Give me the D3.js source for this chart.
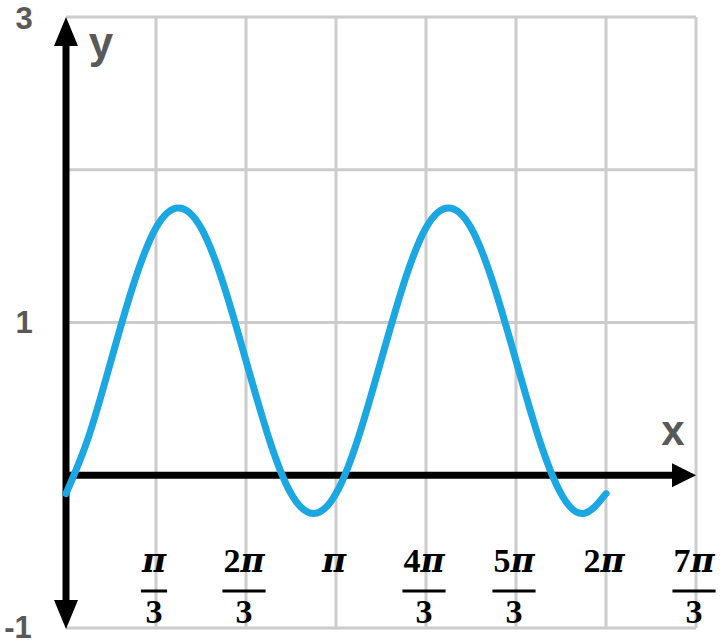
<!DOCTYPE html>
<html><head><meta charset="utf-8">
<script src="https://cdn.jsdelivr.net/npm/d3@7"></script>
<style>body{margin:0;background:#fff}svg{display:block}</style>
</head><body>
<svg id="c" width="725" height="644"></svg>
<script>
// x positions in units of pi/12, y values
const curveX = [0,1,2,3,4,5,6,7,8,9,10,11,12,13,14,15,16,17,18,19,20,21,22,23,24];
const curveY = [-0.12,0.25,0.75,1.25,1.62,1.75,1.62,1.25,0.75,0.25,-0.12,-0.25,-0.12,0.25,0.75,1.25,1.62,1.75,1.62,1.25,0.75,0.25,-0.12,-0.25,-0.12];
const xTickNums = [1,2,3,4,5,6,7];           // multiples of pi/3
const xTickNumer = ["π","2π","π","4π","5π","2π","7π"];
const xTickDenom = ["3","3","","3","3","","3"];
const yTickVals = [3,1,-1];
const yGridVals = [3,2,1,0,-1];

const svg = d3.select("#c");
const x = d3.scaleLinear().domain([0, 7*Math.PI/3]).range([66, 696]);
const y = d3.scaleLinear().domain([-1, 3]).range([628, 17]);
const grey = "#cccccc";

// grid
svg.append("g").selectAll("line").data(xTickNums).join("line")
  .attr("x1", d => x(d*Math.PI/3)).attr("x2", d => x(d*Math.PI/3))
  .attr("y1", y(3)).attr("y2", y(-1)).attr("stroke", grey).attr("stroke-width", 3);
svg.append("g").selectAll("line").data(yGridVals).join("line")
  .attr("x1", x(0)).attr("x2", x(7*Math.PI/3))
  .attr("y1", d => y(d)).attr("y2", d => y(d)).attr("stroke", grey).attr("stroke-width", 3);

// axes
const ax = svg.append("g");
ax.append("line").attr("x1", x(0)).attr("x2", 674).attr("y1", y(0)).attr("y2", y(0))
  .attr("stroke", "#000").attr("stroke-width", 7);
ax.append("path").attr("d", `M696,${y(0)} L672,${y(0)-12} L672,${y(0)+12} Z`).attr("fill", "#000");
ax.append("line").attr("x1", x(0)).attr("x2", x(0)).attr("y1", 44).attr("y2", 600)
  .attr("stroke", "#000").attr("stroke-width", 7);
ax.append("path").attr("d", `M${x(0)},17 L${x(0)-12},46 L${x(0)+12},46 Z`).attr("fill", "#000");
ax.append("path").attr("d", `M${x(0)},629 L${x(0)-12},600 L${x(0)+12},600 Z`).attr("fill", "#000");

// curve
const line = d3.line().x(d => x(d[0]*Math.PI/12)).y(d => y(d[1])).curve(d3.curveNatural);
svg.append("path").datum(curveX.map((v,i)=>[v, curveY[i]])).attr("d", line)
  .attr("fill", "none").attr("stroke", "#1ba8e2").attr("stroke-width", 7).attr("stroke-linecap", "round");

// y labels
svg.append("g").selectAll("text").data(yTickVals).join("text")
  .attr("x", d => d < 0 ? 18 : 24).attr("y", d => d === 3 ? 29 : y(d) + 10).attr("text-anchor", "middle")
  .attr("font-family", "Liberation Sans, Arial, sans-serif").attr("font-weight", "bold")
  .attr("font-size", 31).attr("fill", "#595959").text(d => d);
svg.append("text").attr("x", 101).attr("y", 58).attr("text-anchor", "middle")
  .attr("font-family", "Liberation Sans, Arial, sans-serif").attr("font-weight", "bold")
  .attr("font-size", 44).attr("fill", "#595959").text("y");
svg.append("text").attr("x", 673).attr("y", 445).attr("text-anchor", "middle")
  .attr("font-family", "Liberation Sans, Arial, sans-serif").attr("font-weight", "bold")
  .attr("font-size", 42).attr("fill", "#595959").text("x");

// x tick labels (fractions)
const xl = svg.append("g").attr("font-family", "Liberation Serif, DejaVu Serif, serif")
  .attr("font-weight", "bold").attr("font-size", 34).attr("fill", "#000");
xTickNums.forEach((n, i) => {
  const cx = x(n*Math.PI/3) - 2;
  const t = xl.append("text").attr("x", cx).attr("y", 572).attr("text-anchor", "middle");
  const num = xTickNumer[i];
  if (num.length > 1) t.append("tspan").text(num.slice(0, -1));
  t.append("tspan").attr("font-family", "DejaVu Serif, serif").attr("font-style", "italic")
    .attr("font-size", 33).text("π");
  if (xTickDenom[i]) {
    const w = t.node().getComputedTextLength();
    xl.append("line").attr("x1", cx - w/2 - 1).attr("x2", cx + w/2 + 1).attr("y1", 591).attr("y2", 591)
      .attr("stroke", "#000").attr("stroke-width", 3);
    xl.append("text").attr("x", cx).attr("y", 623).attr("text-anchor", "middle").text(xTickDenom[i]);
  }
});
</script>
</body></html>
